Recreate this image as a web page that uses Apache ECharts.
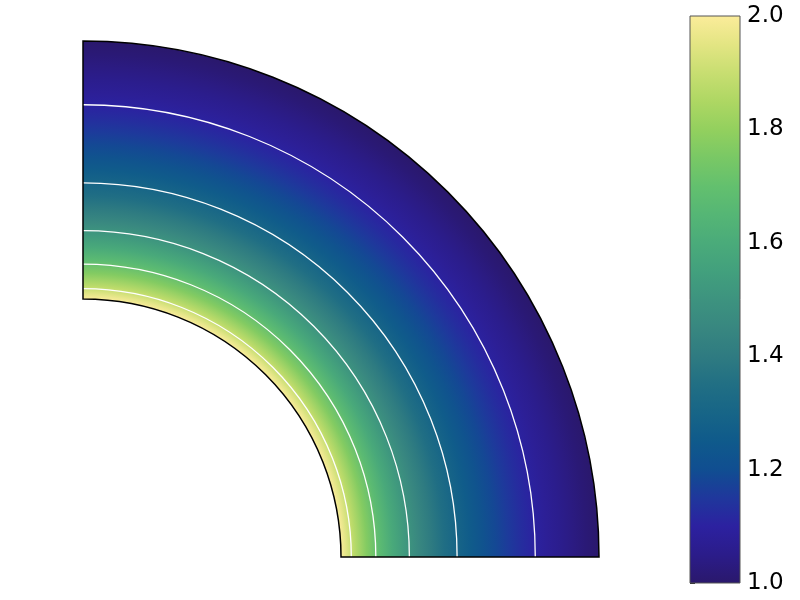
<!DOCTYPE html>
<html>
<head>
<meta charset="utf-8">
<script src="https://cdn.jsdelivr.net/npm/echarts@6/dist/echarts.min.js"></script>
<style>html,body{margin:0;padding:0;background:#fff;}#c{width:800px;height:600px;}</style>
</head>
<body>
<div id="c"></div>
<script>
var radius = [1.00, 1.05, 1.10, 1.15, 1.20, 1.25, 1.30, 1.35, 1.40, 1.45, 1.50,
              1.55, 1.60, 1.65, 1.70, 1.75, 1.80, 1.85, 1.90, 1.95, 2.00];
var fieldValue = [2.000, 1.876, 1.769, 1.675, 1.593, 1.520, 1.456, 1.398, 1.347, 1.301, 1.259,
                  1.222, 1.188, 1.156, 1.128, 1.102, 1.078, 1.056, 1.036, 1.017, 1.000];
// Contour lines: level and the radius where it is drawn
var contourLevels = [1.9, 1.7, 1.5, 1.3, 1.1];
var contourRadius = [1.040, 1.135, 1.265, 1.450, 1.753];
// Colour bar ticks
var cbTicks = [1.0, 1.2, 1.4, 1.6, 1.8, 2.0];
var vMin = 1.0, vMax = 2.0;

// colormap (haline-like)
var cmap = ['#2a186c','#2b1c8a','#2c21a0','#1f379c','#104e91','#0f5a8b','#176587','#216f84',
            '#2f7b81','#388780','#3d937f','#42a07d','#4aab7a','#55b675','#63c06e','#79c865',
            '#93d05e','#aed763','#c8de71','#e3e583','#fbec9a'];
function hex2rgb(h){return [parseInt(h.substr(1,2),16),parseInt(h.substr(3,2),16),parseInt(h.substr(5,2),16)];}
var cmapRgb = cmap.map(hex2rgb);
function colorOf(v){
  var t = (v - vMin)/(vMax - vMin); t = Math.max(0, Math.min(1, t));
  var p = t*(cmapRgb.length-1), i = Math.min(Math.floor(p), cmapRgb.length-2), f = p - i;
  var a = cmapRgb[i], b = cmapRgb[i+1];
  return 'rgb(' + Math.round(a[0]+(b[0]-a[0])*f) + ',' + Math.round(a[1]+(b[1]-a[1])*f) + ',' + Math.round(a[2]+(b[2]-a[2])*f) + ')';
}

var field = radius.map(function(r, i){ return [r, fieldValue[i]]; });
var contours = contourRadius.map(function(r, i){ return [r, contourLevels[i]]; });
var rInner = radius[0], rOuter = radius[radius.length-1];

var chart = echarts.init(document.getElementById('c'));
var font = 'DejaVu Sans';
chart.setOption({
  animation: false,
  grid: [
    {left: 83, top: 41, width: 516, height: 516, show: false},
    {left: 690, top: 16, width: 50, height: 567, show: true, borderColor: '#555', borderWidth: 1, backgroundColor: 'transparent', z: 5}
  ],
  xAxis: [
    {gridIndex: 0, type: 'value', min: 0, max: 2, show: false},
    {gridIndex: 1, type: 'value', min: 0, max: 1, show: false}
  ],
  yAxis: [
    {gridIndex: 0, type: 'value', min: 0, max: 2, show: false},
    {gridIndex: 1, type: 'value', min: 1.0, max: 2.0, interval: 0.2, position: 'right',
     axisLine: {show: false}, splitLine: {show: false},
     axisTick: {show: true, length: 5, lineStyle: {color: '#222', width: 1}},
     axisLabel: {margin: 7, fontSize: 23, color: '#000', fontFamily: font,
                 formatter: function(v){ return v.toFixed(1); }}}
  ],
  series: [
    {
      // field drawn as one annular sector; colour stops at each sampled radius
      type: 'custom', xAxisIndex: 0, yAxisIndex: 0, clip: false,
      data: [[rInner, rOuter]],
      renderItem: function(params, api){
        var c = api.coord([0, 0]);
        var r0 = api.size([api.value(0), 0])[0];
        var r1 = api.size([api.value(1), 0])[0];
        var stops = [{offset: 0, color: colorOf(field[0][1])}];
        field.forEach(function(d){
          stops.push({offset: api.size([d[0], 0])[0] / r1, color: colorOf(d[1])});
        });
        return {
          type: 'sector',
          shape: {cx: c[0], cy: c[1], r0: r0, r: r1, startAngle: -Math.PI/2, endAngle: 0, clockwise: true},
          style: {
            fill: {type: 'radial', x: c[0], y: c[1], r: r1, global: true, colorStops: stops},
            stroke: null
          }
        };
      }
    },
    {
      type: 'custom', xAxisIndex: 0, yAxisIndex: 0, clip: false, z: 3,
      data: contours,
      renderItem: function(params, api){
        var c = api.coord([0, 0]);
        var r = api.size([api.value(0), 0])[0];
        return {
          type: 'arc',
          shape: {cx: c[0], cy: c[1], r: r, startAngle: -Math.PI/2, endAngle: 0, clockwise: true},
          style: {stroke: '#ffffff', lineWidth: 1.3, fill: null}
        };
      }
    },
    {
      type: 'custom', xAxisIndex: 0, yAxisIndex: 0, clip: false, z: 4,
      data: [[rInner, rOuter]],
      renderItem: function(params, api){
        var c = api.coord([0, 0]);
        var r0 = api.size([api.value(0), 0])[0];
        var r1 = api.size([api.value(1), 0])[0];
        return {
          type: 'sector',
          shape: {cx: c[0], cy: c[1], r0: r0, r: r1, startAngle: -Math.PI/2, endAngle: 0, clockwise: true},
          style: {fill: null, stroke: '#000', lineWidth: 1.5}
        };
      }
    },
    {
      type: 'custom', xAxisIndex: 1, yAxisIndex: 1, clip: false, z: 2,
      data: [[vMin, vMax]],
      renderItem: function(params, api){
        var p0 = api.coord([0, api.value(1)]);
        var p1 = api.coord([1, api.value(0)]);
        var stops = cmap.map(function(col, i){ return {offset: 1 - i/(cmap.length-1), color: col}; }).reverse();
        return {
          type: 'rect',
          shape: {x: p0[0], y: p0[1], width: p1[0]-p0[0], height: p1[1]-p0[1]},
          style: {fill: {type: 'linear', x: 0, y: 0, x2: 0, y2: 1, colorStops: stops}}
        };
      }
    }
  ]
});
</script>
</body>
</html>
